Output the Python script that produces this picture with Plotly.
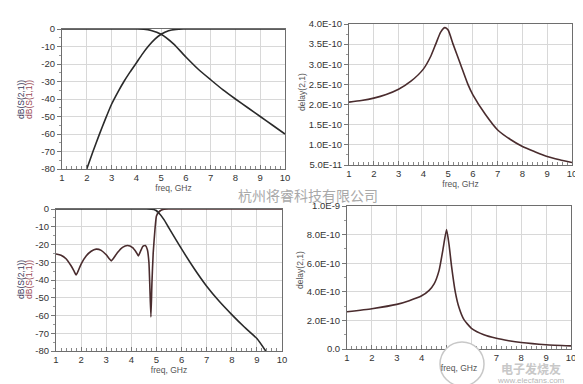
import plotly.graph_objects as go

# ---------------- data ----------------
freq_ticks = [1, 2, 3, 4, 5, 6, 7, 8, 9, 10]
freq_ticktext = ["1", "2", "3", "4", "5", "6", "7", "8", "9", "10"]

db_ticks = [0, -10, -20, -30, -40, -50, -60, -70, -80]
db_ticktext = ["0", "-10", "-20", "-30", "-40", "-50", "-60", "-70", "-80"]

# top-left: filter 1, S-parameters (dB)
freq_tl_s21 = [1, 2, 3, 4, 4.3, 4.6, 5.0, 5.5, 6.0, 6.5, 7.0, 7.5, 8.0, 8.5, 9.0, 9.5, 10.0]
db_tl_s21 = [0, 0, 0, 0, -0.1, -0.8, -3.0, -8.5, -16.0, -23.0, -29.0, -34.8, -40.0, -45.0, -50.0, -55.0, -60.0]
freq_tl_s11 = [2.0, 2.25, 2.5, 2.75, 3.0, 3.25, 3.5, 3.75, 4.0, 4.25, 4.5, 4.75, 5.0, 5.3, 5.6, 5.9, 6.5, 10.0]
db_tl_s11 = [-80.0, -70.0, -60.5, -51.5, -43.0, -36.2, -30.0, -24.5, -19.4, -14.2, -9.6, -5.8, -3.0, -1.0,
             -0.2, 0, 0, 0]

# top-right: filter 1, group delay (s)
delay_tr_ticks = [4.0e-10, 3.5e-10, 3.0e-10, 2.5e-10, 2.0e-10, 1.5e-10, 1.0e-10, 5.0e-11]
delay_tr_ticktext = ["4.0E-10", "3.5E-10", "3.0E-10", "2.5E-10", "2.0E-10", "1.5E-10", "1.0E-10", "5.0E-11"]
freq_tr = [1, 1.5, 2, 2.5, 3, 3.5, 4, 4.3, 4.5, 4.7, 4.87, 5.0, 5.2, 5.5, 5.8, 6, 6.5, 7, 7.5, 8, 8.5, 9, 9.5, 10]
delay_tr = [2.06e-10, 2.10e-10, 2.16e-10, 2.25e-10, 2.38e-10, 2.58e-10, 2.88e-10, 3.20e-10, 3.50e-10,
            3.80e-10, 3.91e-10, 3.85e-10, 3.50e-10, 3.00e-10, 2.50e-10, 2.24e-10, 1.76e-10, 1.37e-10,
            1.14e-10, 0.96e-10, 0.83e-10, 0.71e-10, 0.63e-10, 0.56e-10]

# bottom-left: filter 2, S-parameters (dB)
freq_bl_s11 = [1.0, 1.2, 1.4, 1.6, 1.72, 1.8, 1.88, 2.0, 2.2, 2.4, 2.6, 2.8, 3.0, 3.12, 3.2, 3.28, 3.45,
               3.65, 3.85, 4.05, 4.2, 4.28, 4.36, 4.46, 4.56, 4.64, 4.7, 4.74, 4.78, 4.82, 4.87, 4.94,
               5.0, 5.08, 5.18, 5.3, 5.5, 10.0]
db_bl_s11 = [-25.3, -26.0, -28.0, -32.0, -35.0, -37.2, -35.0, -31.0, -26.5, -23.8, -22.6, -23.3, -25.8,
             -28.0, -29.2, -28.0, -24.5, -21.6, -20.6, -21.8, -24.5, -26.4, -24.0, -21.0, -20.6,
             -23.0, -30.0, -45.0, -60.8, -42.0, -25.0, -11.7, -4.0, -2.0, -0.7, -0.1, 0, 0]
freq_bl_s21 = [1.0, 3.0, 4.6, 4.9, 5.0, 5.08, 5.3, 5.5, 6.0, 6.5, 7.0, 7.5, 8.0, 8.5, 9.0, 9.35]
db_bl_s21 = [0, 0, 0, -0.3, -1.0, -2.0, -6.0, -10.8, -22.5, -33.5, -43.5, -52.0, -59.5, -66.5, -73.0, -80.0]

# bottom-right: filter 2, group delay (s)
delay_br_ticks = [0.0, 2.0e-10, 4.0e-10, 6.0e-10, 8.0e-10, 1.0e-9]
delay_br_ticktext = ["0.0", "2.0E-10", "4.0E-10", "6.0E-10", "8.0E-10", "1.0E-9"]
freq_br = [1, 2, 3, 3.5, 4, 4.3, 4.5, 4.7, 4.85, 5.0, 5.1, 5.2, 5.35, 5.5, 5.7, 6, 6.5, 7, 7.5, 8, 9, 10]
delay_br = [2.60e-10, 2.82e-10, 3.12e-10, 3.38e-10, 3.72e-10, 4.10e-10, 4.55e-10, 5.50e-10, 6.90e-10,
            8.35e-10, 7.30e-10, 5.80e-10, 4.00e-10, 2.90e-10, 2.05e-10, 1.45e-10, 1.00e-10, 0.75e-10,
            0.58e-10, 0.45e-10, 0.30e-10, 0.22e-10]

# ---------------- figure ----------------
W, H = 583, 384
FONT = "Liberation Sans, Arial, sans-serif"
TRACE_DARK = "#2a2a2a"
TRACE_RED = "#4a2c2e"
GRID = "#d8d8d8"
FRAME = "#6e6e6e"


def xd(a, b):
    return [a / W, b / W]


def yd(top, bottom):
    return [1 - bottom / H, 1 - top / H]


fig = go.Figure()

line_kw = dict(shape="spline", smoothing=0.6, width=1.6)

fig.add_trace(go.Scatter(x=freq_tl_s21, y=db_tl_s21, mode="lines", xaxis="x", yaxis="y",
                         line=dict(color=TRACE_DARK, **line_kw), name="dB(S(2,1))"))
fig.add_trace(go.Scatter(x=freq_tl_s11, y=db_tl_s11, mode="lines", xaxis="x", yaxis="y",
                         line=dict(color=TRACE_DARK, **line_kw), name="dB(S(1,1))"))
fig.add_trace(go.Scatter(x=freq_tr, y=delay_tr, mode="lines", xaxis="x2", yaxis="y2",
                         line=dict(color=TRACE_RED, **line_kw), name="delay(2,1)"))
fig.add_trace(go.Scatter(x=freq_bl_s11, y=db_bl_s11, mode="lines", xaxis="x3", yaxis="y3",
                         line=dict(color=TRACE_RED, shape="spline", smoothing=0.5, width=1.6), name="dB(S(1,1))"))
fig.add_trace(go.Scatter(x=freq_bl_s21, y=db_bl_s21, mode="lines", xaxis="x3", yaxis="y3",
                         line=dict(color=TRACE_DARK, **line_kw), name="dB(S(2,1))"))
fig.add_trace(go.Scatter(x=freq_br, y=delay_br, mode="lines", xaxis="x4", yaxis="y4",
                         line=dict(color=TRACE_RED, shape="spline", smoothing=0.5, width=1.6), name="delay(2,1)"))

tickfont = dict(family=FONT, size=9.5, color="#333")


def xaxis(domain, anchor):
    return dict(domain=domain, anchor=anchor, range=[1, 10], tickvals=freq_ticks, ticktext=freq_ticktext,
                ticks="inside", ticklen=4, tickcolor="#777", showgrid=True, gridcolor=GRID, gridwidth=1,
                showline=True, linecolor=FRAME, linewidth=1, mirror=True, zeroline=False,
                minor=dict(dtick=0.2, ticks="inside", ticklen=3, tickcolor="#888", showgrid=False),
                tickfont=tickfont, automargin=False,
                title=dict(text="freq, GHz", font=dict(family=FONT, size=8.5, color="#555"), standoff=2))


def yaxis(domain, anchor, rng, tv, tt, minor_dtick):
    return dict(domain=domain, anchor=anchor, range=rng, tickvals=tv, ticktext=tt,
                ticks="outside", ticklen=4, tickcolor="#777", showgrid=True, gridcolor=GRID, gridwidth=1,
                showline=True, linecolor=FRAME, linewidth=1, mirror=True, zeroline=False,
                minor=dict(dtick=minor_dtick, ticks="outside", ticklen=2, tickcolor="#999", showgrid=False),
                tickfont=tickfont, automargin=False)


fig.update_layout(
    width=W, height=H, template="none",
    margin=dict(l=0, r=0, t=0, b=0),
    paper_bgcolor="white", plot_bgcolor="white",
    showlegend=False,
    xaxis=xaxis(xd(54, 277), "y"),
    yaxis=yaxis(yd(21, 161), "x", [-80, 0], db_ticks, db_ticktext, 5),
    xaxis2=xaxis(xd(341, 564), "y2"),
    yaxis2=yaxis(yd(16, 157), "x2", [5.0e-11, 4.0e-10], delay_tr_ticks, delay_tr_ticktext, 2.5e-11),
    xaxis3=xaxis(xd(48, 274), "y3"),
    yaxis3=yaxis(yd(201, 343), "x3", [-80, 0], db_ticks, db_ticktext, 5),
    xaxis4=xaxis(xd(339, 563), "y4"),
    yaxis4=yaxis(yd(198, 341), "x4", [0, 1.0e-9], delay_br_ticks, delay_br_ticktext, 1.0e-10),
)

ann = []


def ytitle(x_px, y_px, text, color):
    ann.append(dict(x=x_px / W, y=1 - y_px / H, xref="paper", yref="paper", text=text, textangle=-90,
                    showarrow=False, font=dict(family=FONT, size=8.5, color=color),
                    xanchor="center", yanchor="middle", borderpad=0))


ytitle(13, 92, "dB(S(2,1))", "#3a3a5a")
ytitle(21, 92, "dB(S(1,1))", "#9a4a55")
ytitle(13, 272, "dB(S(2,1))", "#3a3a5a")
ytitle(21, 272, "dB(S(1,1))", "#9a4a55")
ytitle(294, 84, "delay(2,1)", "#555")
ytitle(292, 262, "delay(2,1)", "#555")

# watermark
ann.append(dict(x=300 / W, y=1 - 187 / H, xref="paper", yref="paper", text="杭州将睿科技有限公司",
                showarrow=False, font=dict(family="Noto Sans CJK SC", size=14, color="#a9a9a9"),
                xanchor="center", yanchor="middle", borderpad=0))
ann.append(dict(x=523 / W, y=1 - 360 / H, xref="paper", yref="paper", text="<b>电子发烧友</b>",
                showarrow=False, font=dict(family="Noto Sans CJK SC", size=12, color="#c8c8c8"),
                xanchor="center", yanchor="middle", borderpad=0))
ann.append(dict(x=523 / W, y=1 - 372 / H, xref="paper", yref="paper", text="www.elecfans.com",
                showarrow=False, font=dict(family=FONT, size=8, color="#b8b8b8"),
                xanchor="center", yanchor="middle", borderpad=0))
fig.update_layout(annotations=ann)

fig.add_shape(type="circle", xref="paper", yref="paper",
              x0=432 / W, x1=476 / W, y0=1 - 378 / H, y1=1 - 334 / H,
              line=dict(color="#c8c8c8", width=1.5), fillcolor="white", layer="above")

fig.write_html("out.html")
